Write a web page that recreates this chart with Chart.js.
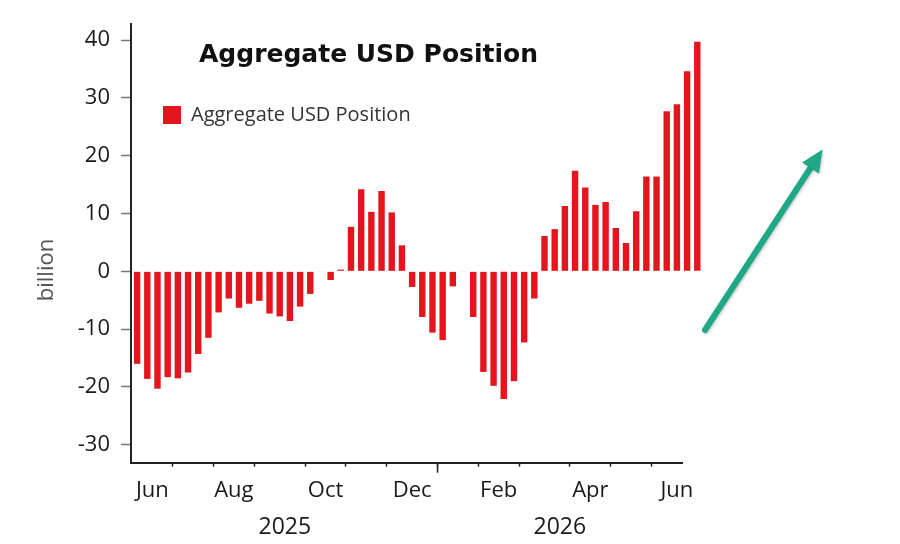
<!DOCTYPE html>
<html>
<head>
<meta charset="utf-8">
<script src="https://cdn.jsdelivr.net/npm/chart.js@4"></script>
<style>
  html, body { margin: 0; padding: 0; background: #fff; }
  #wrap { width: 900px; height: 544px; position: relative; }
</style>
</head>
<body>
<div id="wrap"><canvas id="myChart"></canvas></div>
<script>
// weekly observations (Mondays)
var weeks = ['2025-06-09', '2025-06-16', '2025-06-23', '2025-06-30', '2025-07-07', '2025-07-14', '2025-07-21', '2025-07-28',
    '2025-08-04', '2025-08-11', '2025-08-18', '2025-08-25', '2025-09-01', '2025-09-08', '2025-09-15', '2025-09-22', '2025-09-29',
    '2025-10-06', '2025-10-13', '2025-10-20', '2025-10-27', '2025-11-03', '2025-11-10', '2025-11-17', '2025-11-24',
    '2025-12-01', '2025-12-08', '2025-12-15', '2025-12-22', '2025-12-29', '2026-01-05', '2026-01-12', '2026-01-19', '2026-01-26',
    '2026-02-02', '2026-02-09', '2026-02-16', '2026-02-23', '2026-03-02', '2026-03-09', '2026-03-16', '2026-03-23', '2026-03-30',
    '2026-04-06', '2026-04-13', '2026-04-20', '2026-04-27', '2026-05-04', '2026-05-11', '2026-05-18', '2026-05-25',
    '2026-06-01', '2026-06-08', '2026-06-15', '2026-06-22', '2026-06-29'];

// aggregate USD position, billion
var usdPosition = [-16.0, -18.6, -20.3, -18.3, -18.5, -17.5, -14.3, -11.5,
    -7.1, -4.7, -6.3, -5.6, -5.1, -7.3, -7.8, -8.6, -6.1,
    -3.9, -0.1, -1.5, 0.3, 7.7, 14.2, 10.3, 13.9,
    10.2, 4.5, -2.7, -7.9, -10.6, -11.9, -2.6, -0.1, -7.9,
    -17.4, -19.8, -22.1, -19.0, -12.3, -4.7, 6.1, 7.3, 11.3,
    17.4, 14.5, 11.5, 12.0, 7.5, 4.9, 10.4, 16.4,
    16.4, 27.7, 28.9, 34.6, 39.7];

var monthTicks = ['2025-06', '2025-08', '2025-10', '2025-12', '2026-02', '2026-04', '2026-06'];
var monthTickLabels = ['Jun', 'Aug', 'Oct', 'Dec', 'Feb', 'Apr', 'Jun'];
var yearTicks = ['2025', '2026'];
var yTicks = [-30, -20, -10, 0, 10, 20, 30, 40];

var X_MIN = -0.6, X_MAX = 53.5;
var RED = '#e3161e';
var FONT = "'Open Sans', 'Noto Sans', sans-serif";

// positions on the week axis
function centerOf(prefix, clip) {
    var idx = [];
    weeks.forEach(function (w, i) { if (w.indexOf(prefix) === 0) idx.push(i); });
    var a = idx[0], b = idx[idx.length - 1];
    if (clip) b = Math.min(b, X_MAX - 0.5);
    return (a + b) / 2;
}
var monthBounds = [], yearBounds = [];
for (var i = 1; i < weeks.length; i++) {
    if (weeks[i].slice(0, 7) !== weeks[i - 1].slice(0, 7) && i - 0.5 < X_MAX) monthBounds.push(i - 0.5);
    if (weeks[i].slice(0, 4) !== weeks[i - 1].slice(0, 4)) yearBounds.push(i - 0.5);
}
var xLabelAt = new Map();
monthTicks.forEach(function (m, k) { xLabelAt.set(centerOf(m, false), monthTickLabels[k]); });
var yearLabelAt = new Map();
yearTicks.forEach(function (y) { yearLabelAt.set(centerOf(y, true), y); });
var boundSet = new Set(monthBounds);

var overlay = {
    id: 'overlay',
    afterLayout: function (chart) {
        // legend sits inside the plot, under the title
        chart.legend.left = 163;
        chart.legend.top = 105;
    },
    afterDraw: function (chart) {
        var ctx = chart.ctx, x = chart.scales.x, area = chart.chartArea;
        ctx.save();
        // longer tick at the year change
        ctx.strokeStyle = '#222';
        ctx.lineWidth = 1.5;
        yearBounds.forEach(function (v) {
            var px = x.getPixelForValue(v);
            ctx.beginPath();
            ctx.moveTo(px, area.bottom);
            ctx.lineTo(px, area.bottom + 10);
            ctx.stroke();
        });

        // title
        ctx.fillStyle = '#111';
        ctx.font = "bold 25px 'DejaVu Sans', sans-serif";
        ctx.textAlign = 'left';
        ctx.textBaseline = 'alphabetic';
        ctx.fillText('Aggregate USD Position', 199, 62);

        // y axis title
        ctx.save();
        ctx.translate(47, 270);
        ctx.rotate(-Math.PI / 2);
        ctx.fillStyle = '#555';
        ctx.font = '22px ' + FONT;
        ctx.textAlign = 'center';
        ctx.textBaseline = 'middle';
        ctx.fillText('billion', 0, 0);
        ctx.restore();

        // green arrow
        var x0 = 705, y0 = 330, x1 = 822.5, y1 = 149.5;
        var len = Math.hypot(x1 - x0, y1 - y0), ux = (x1 - x0) / len, uy = (y1 - y0) / len;
        var head = 22, half = 10;
        ctx.shadowColor = 'rgba(0,0,0,0.25)';
        ctx.shadowBlur = 3;
        ctx.shadowOffsetX = 1;
        ctx.shadowOffsetY = 1;
        ctx.strokeStyle = '#1ea886';
        ctx.fillStyle = '#1ea886';
        ctx.lineWidth = 6;
        ctx.lineCap = 'round';
        ctx.beginPath();
        ctx.moveTo(x0, y0);
        ctx.lineTo(x1 - ux * head * 0.8, y1 - uy * head * 0.8);
        ctx.stroke();
        ctx.beginPath();
        ctx.moveTo(x1, y1);
        ctx.lineTo(x1 - ux * head - uy * half, y1 - uy * head + ux * half);
        ctx.lineTo(x1 - ux * head + uy * half, y1 - uy * head - ux * half);
        ctx.closePath();
        ctx.fill();
        ctx.restore();
    }
};

var ctx = document.getElementById('myChart').getContext('2d');
var chart = new Chart(ctx, {
    type: 'bar',
    data: {
        datasets: [{
            label: 'Aggregate USD Position',
            data: usdPosition.map(function (v, i) { return { x: i, y: v }; }),
            backgroundColor: RED,
            borderWidth: 0,
            barPercentage: 0.63,
            categoryPercentage: 1,
            clip: false
        }]
    },
    options: {
        responsive: true,
        maintainAspectRatio: false,
        animation: false,
        layout: { padding: { left: 0, right: 218, top: 21, bottom: 0 } },
        scales: {
            x: {
                type: 'linear',
                position: 'bottom',
                weight: 0,
                offset: false,
                min: X_MIN,
                max: X_MAX,
                afterBuildTicks: function (scale) {
                    var vals = monthBounds.concat(Array.from(xLabelAt.keys())).sort(function (a, b) { return a - b; });
                    scale.ticks = vals.map(function (v) { return { value: v }; });
                },
                afterFit: function (scale) { scale.height = 50; },
                grid: {
                    offset: false,
                    drawOnChartArea: false,
                    tickLength: 4,
                    tickWidth: 1.5,
                    tickColor: function (c) { return c.tick && boundSet.has(c.tick.value) ? '#222' : 'rgba(0,0,0,0)'; }
                },
                border: { color: '#222', width: 2 },
                ticks: {
                    autoSkip: false,
                    maxRotation: 0,
                    minRotation: 0,
                    padding: 11,
                    color: '#1a1a1a',
                    font: { family: FONT, size: 22 },
                    callback: function (v) { return xLabelAt.has(v) ? xLabelAt.get(v) : ''; }
                }
            },
            xYear: {
                type: 'linear',
                position: 'bottom',
                weight: 1,
                offset: false,
                min: X_MIN,
                max: X_MAX,
                afterBuildTicks: function (scale) {
                    scale.ticks = Array.from(yearLabelAt.keys()).map(function (v) { return { value: v }; });
                },
                afterFit: function (scale) { scale.height = 31.3; },
                grid: { display: false, drawTicks: false, offset: false },
                border: { display: false },
                ticks: {
                    autoSkip: false,
                    maxRotation: 0,
                    minRotation: 0,
                    padding: 1,
                    color: '#1a1a1a',
                    font: { family: FONT, size: 23 },
                    callback: function (v) { return yearLabelAt.get(v) || ''; }
                }
            },
            y: {
                min: -33.1,
                max: 42.75,
                afterBuildTicks: function (scale) {
                    scale.ticks = yTicks.map(function (v) { return { value: v }; });
                },
                afterFit: function (scale) { scale.width = 131; },
                grid: { drawOnChartArea: false, tickLength: 10, tickWidth: 1.5, tickColor: '#777' },
                border: { color: '#222', width: 2 },
                ticks: {
                    padding: 11,
                    color: '#1a1a1a',
                    font: { family: FONT, size: 22 },
                    callback: function (v) { return String(v); }
                }
            }
        },
        plugins: {
            legend: {
                position: 'chartArea',
                align: 'start',
                labels: {
                    boxWidth: 18,
                    boxHeight: 18,
                    padding: 0,
                    color: '#333',
                    font: { family: FONT, size: 20 }
                }
            },
            title: { display: false },
            tooltip: {
                callbacks: {
                    title: function (items) { return weeks[items[0].dataIndex]; }
                }
            }
        }
    },
    plugins: [overlay]
});
</script>
</body>
</html>
